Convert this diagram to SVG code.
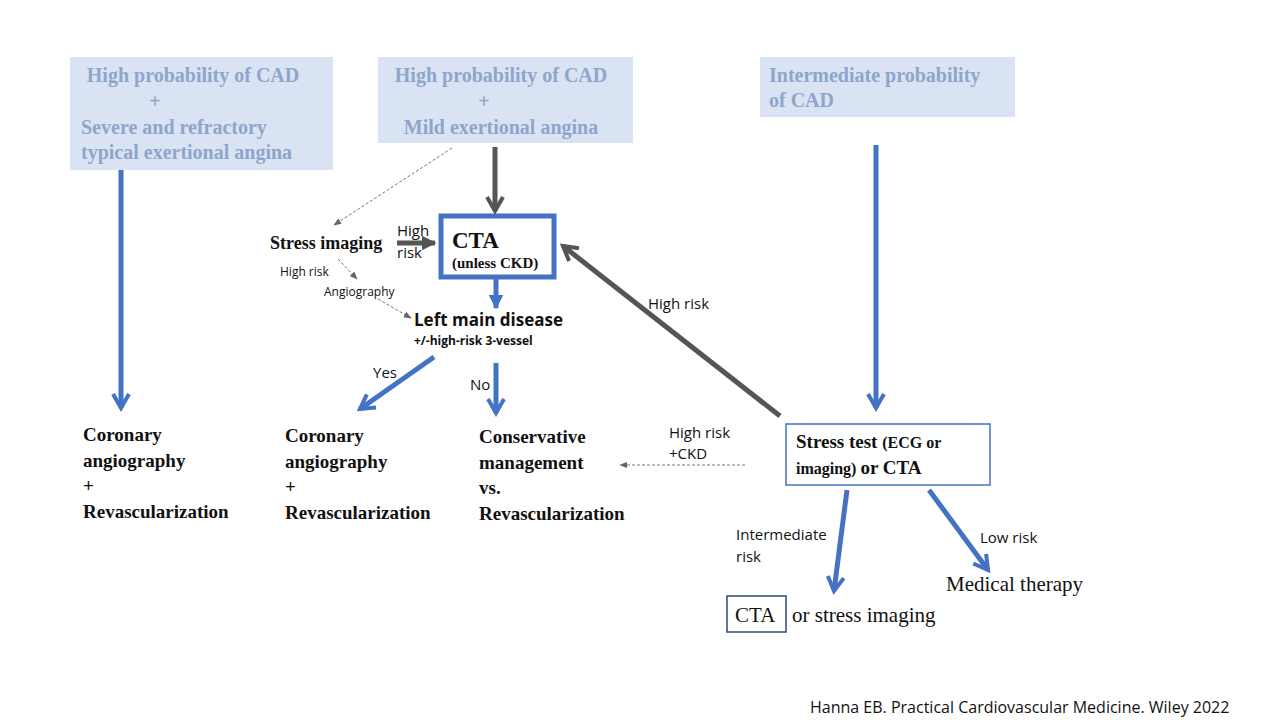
<svg xmlns="http://www.w3.org/2000/svg" width="1280" height="720" viewBox="0 0 1280 720">
<style>
.tb{fill:#dae3f3}
.tt{font-family:"Liberation Serif",serif;font-weight:bold;font-size:20px;fill:#8ea5cc}
.sb{font-family:"Liberation Serif",serif;font-weight:bold;fill:#111}
.ss{font-family:"Open Sans",sans-serif;fill:#111}
.bl{stroke:#4472c4;stroke-width:5;fill:none}
.gr{stroke:#555;stroke-width:5;fill:none}
.dt{stroke:#777;stroke-width:1;stroke-dasharray:3,2;fill:none}
</style>
<defs>
<marker id="vb" viewBox="0 0 10 10" refX="8" refY="5" markerWidth="4" markerHeight="4" orient="auto" markerUnits="strokeWidth"><path d="M1,1 L8,5 L1,9" fill="none" stroke="#4472c4" stroke-width="2"/></marker>
<marker id="vg" viewBox="0 0 10 10" refX="8" refY="5" markerWidth="4" markerHeight="4" orient="auto" markerUnits="strokeWidth"><path d="M1,1 L8,5 L1,9" fill="none" stroke="#555" stroke-width="2"/></marker>
<marker id="tg" viewBox="0 0 10 10" refX="9" refY="5" markerWidth="3" markerHeight="3" orient="auto" markerUnits="strokeWidth"><path d="M0,0 L10,5 L0,10z" fill="#555"/></marker>
<marker id="tb2" viewBox="0 0 10 10" refX="9" refY="5" markerWidth="3" markerHeight="3" orient="auto" markerUnits="strokeWidth"><path d="M0,0 L10,5 L0,10z" fill="#4472c4"/></marker>
<marker id="td" viewBox="0 0 10 10" refX="9" refY="5" markerWidth="8" markerHeight="8" orient="auto" markerUnits="strokeWidth"><path d="M0,1 L10,5 L0,9z" fill="#666"/></marker>
</defs>
<rect width="1280" height="720" fill="#fff"/>
<g id="n1"><rect class="tb" x="70" y="57" width="263" height="113"/>
<text class="tt" x="193" y="82" text-anchor="middle">High probability of CAD</text>
<text class="tt" x="155" y="108" text-anchor="middle">+</text>
<text class="tt" x="81" y="134">Severe and refractory</text>
<text class="tt" x="81" y="159">typical exertional angina</text></g>
<g id="n2"><rect class="tb" x="378" y="57" width="255" height="86"/>
<text class="tt" x="501" y="82" text-anchor="middle">High probability of CAD</text>
<text class="tt" x="484" y="108" text-anchor="middle">+</text>
<text class="tt" x="501" y="134" text-anchor="middle">Mild exertional angina</text></g>
<g id="n3"><rect class="tb" x="760" y="57" width="255" height="60"/>
<text class="tt" x="769" y="82">Intermediate probability</text>
<text class="tt" x="769" y="107">of CAD</text></g>
<g id="n4"><text class="sb" font-size="19" x="83" y="441">Coronary</text><text class="sb" font-size="19" x="83" y="467">angiography</text><text class="sb" font-size="19" x="83" y="492">+</text><text class="sb" font-size="19" x="83" y="518">Revascularization</text></g>
<g id="n5"><text class="sb" font-size="18" x="270" y="249">Stress imaging</text></g>
<g id="n6"><rect x="441" y="216" width="113" height="61" fill="#fff" stroke="#4472c4" stroke-width="5"/>
<text class="sb" font-size="23" x="452" y="248">CTA</text><text class="sb" font-size="15" x="452" y="268">(unless CKD)</text></g>
<g id="n7"><text class="ss" font-weight="bold" font-size="17" x="414" y="326">Left main disease</text><text class="ss" font-weight="bold" font-size="12" x="414" y="345">+/-high-risk 3-vessel</text></g>
<g id="n8"><text class="sb" font-size="19" x="285" y="442">Coronary</text><text class="sb" font-size="19" x="285" y="468">angiography</text><text class="sb" font-size="19" x="285" y="493">+</text><text class="sb" font-size="19" x="285" y="519">Revascularization</text></g>
<g id="n9"><text class="sb" font-size="19" x="479" y="443">Conservative</text><text class="sb" font-size="19" x="479" y="469">management</text><text class="sb" font-size="19" x="479" y="494">vs.</text><text class="sb" font-size="19" x="479" y="520">Revascularization</text></g>
<g id="n10"><rect x="786" y="424" width="204" height="61" fill="#fff" stroke="#4472c4" stroke-width="1.5"/>
<text class="sb" x="796" y="448"><tspan font-size="19">Stress test </tspan><tspan font-size="16">(ECG or</tspan></text>
<text class="sb" x="796" y="474"><tspan font-size="16">imaging) </tspan><tspan font-size="19">or CTA</tspan></text></g>
<g id="n11"><rect x="727" y="596" width="59" height="36" fill="#fff" stroke="#2f4a7a" stroke-width="1.5"/>
<text font-family="Liberation Serif,serif" font-size="21" x="735" y="622" fill="#111">CTA</text>
<text font-family="Liberation Serif,serif" font-size="21" x="792" y="622" fill="#111">or stress imaging</text></g>
<g id="n12"><text font-family="Liberation Serif,serif" font-size="21" x="946" y="591" fill="#111">Medical therapy</text></g>
<g id="connectors">
<line class="bl" x1="121" y1="170" x2="121" y2="408" marker-end="url(#vb)"/>
<line class="gr" x1="495" y1="147" x2="495" y2="211" marker-end="url(#vg)"/>
<line class="dt" x1="452" y1="148" x2="334" y2="225" marker-end="url(#td)"/>
<line stroke="#555" stroke-width="5" x1="397" y1="243" x2="435" y2="243" marker-end="url(#tg)"/>
<line class="dt" x1="338" y1="259" x2="357" y2="279" marker-end="url(#td)"/>
<line class="dt" x1="378" y1="299" x2="411" y2="318" marker-end="url(#td)"/>
<line stroke="#4472c4" stroke-width="5" x1="496" y1="279" x2="496" y2="308" marker-end="url(#tb2)"/>
<line class="bl" x1="434" y1="357" x2="360" y2="409" marker-end="url(#vb)"/>
<line class="bl" x1="496" y1="363" x2="496" y2="413" marker-end="url(#vb)"/>
<line class="gr" x1="780" y1="416" x2="563" y2="246" marker-end="url(#vg)"/>
<line class="bl" x1="876" y1="145" x2="876" y2="408" marker-end="url(#vb)"/>
<line class="dt" x1="745" y1="465" x2="620" y2="465" marker-end="url(#td)"/>
<line class="bl" x1="847" y1="490" x2="834" y2="591" marker-end="url(#vb)"/>
<line class="bl" x1="929" y1="490" x2="988" y2="570" marker-end="url(#vb)"/>
</g>
<g id="labels">
<text class="ss" x="397" y="236" font-size="15">High</text><text class="ss" x="397" y="258" font-size="15">risk</text>
<text class="ss" x="280" y="276" font-size="12">High risk</text>
<text class="ss" x="324" y="296" font-size="12">Angiography</text>
<text class="ss" x="373" y="378" font-size="15">Yes</text>
<text class="ss" x="470" y="390" font-size="15">No</text>
<text class="ss" x="648" y="309" font-size="15">High risk</text>
<text class="ss" x="669" y="438" font-size="15">High risk</text><text class="ss" x="669" y="459" font-size="15">+CKD</text>
<text class="ss" x="736" y="540" font-size="15">Intermediate</text><text class="ss" x="736" y="562" font-size="15">risk</text>
<text class="ss" x="980" y="543" font-size="15">Low risk</text>
<text class="ss" x="810" y="713" font-size="16">Hanna EB. Practical Cardiovascular Medicine. Wiley 2022</text>
</g>
</svg>
